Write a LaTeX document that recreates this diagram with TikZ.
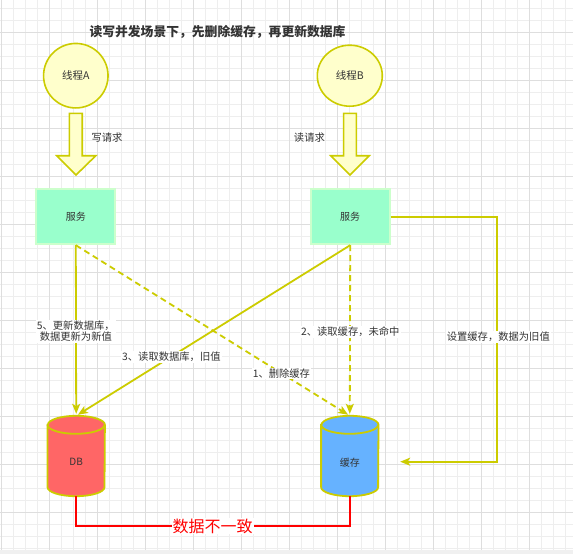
\documentclass[tikz,border=0pt]{standalone}
\usepackage{fontspec}
\newfontfamily\cjk{Noto Sans CJK SC}
\usetikzlibrary{shapes.geometric,arrows.meta,calc}
\definecolor{ylw}{HTML}{CCCC00}
\definecolor{ylwfill}{HTML}{FFFFCC}
\definecolor{boxfill}{HTML}{99FFCC}
\definecolor{boxline}{HTML}{CCFFCC}
\definecolor{dbfill}{HTML}{FF6666}
\definecolor{cachefill}{HTML}{66B2FF}
\definecolor{txt}{HTML}{333333}
\definecolor{gminor}{HTML}{EEEEEE}
\definecolor{gmajor}{HTML}{DEDEDE}
\definecolor{gbar}{HTML}{F0F0F0}
\tikzset{
  gridminor/.style={draw=gminor,line width=0.8pt},
  gridmajor/.style={draw=gmajor,line width=0.9pt},
  thread/.style={ellipse,draw=ylw,fill=ylwfill,line width=1.6pt,inner sep=0pt,font=\cjk\fontsize{10.5}{12}\selectfont,text=txt},
  svc/.style={rectangle,draw=boxline,fill=boxfill,line width=2pt,minimum width=79pt,minimum height=55pt,inner sep=0pt,font=\cjk\fontsize{10}{12}\selectfont,text=txt},
  cylslot/.style={rectangle,draw=none,minimum width=57pt,minimum height=80pt,inner sep=0pt},
  blockarrow/.style={draw=ylw,fill=ylwfill,line width=1.6pt,line join=miter},
  plain/.style={font=\cjk\fontsize{10.3}{11.5}\selectfont,text=txt,inner sep=1pt},
  elabel/.style={plain,fill=white,align=center},
  conn/.style={draw=ylw,line width=1.8pt,-{Stealth[length=10pt,width=8pt,inset=2.5pt]}},
  dconn/.style={conn,dash pattern=on 6pt off 4pt},
}
\begin{document}
\begin{tikzpicture}[x=1pt,y=-1pt]
\useasboundingbox (0,0) rectangle (573,554);
\fill[white] (0,0) rectangle (573,554);
% grid
\foreach \i in {0,...,47} {\draw[gridminor] ({1.3+12*\i},0) -- ({1.3+12*\i},550);}
\foreach \i in {0,...,45} {\draw[gridminor] (0,{8.7+12*\i}) -- (573,{8.7+12*\i});}
\foreach \i in {0,...,11} {\draw[gridmajor] ({1.3+48*\i},0) -- ({1.3+48*\i},550);}
\foreach \i in {0,...,10} {\draw[gridmajor] (0,{32.7+48*\i}) -- (573,{32.7+48*\i});}
\fill[gbar] (0,550) rectangle (573,554);

% title
\node[font=\cjk\bfseries\fontsize{12.8}{14}\selectfont,text=txt] (title) at (217.5,32) {读写并发场景下，先删除缓存，再更新数据库};

% threads
\node[thread,minimum width=64.5pt,minimum height=64.5pt] (ta) at (75.8,75.7) {线程A};
\node[thread,minimum width=65pt,minimum height=61pt] (tb) at (349.8,75.7) {线程B};

% block arrows
\draw[blockarrow] (69.4,113.3) -- (82.2,113.3) -- (82.2,155.7) -- (95.8,155.7) -- (76,175) -- (56.7,155.7) -- (69.4,155.7) -- cycle;
\draw[blockarrow] (343.6,113.3) -- (356.4,113.3) -- (356.4,155.7) -- (369.2,155.7) -- (350,175) -- (330.8,155.7) -- (343.6,155.7) -- cycle;
\node[plain] (wreq) at (107,138) {写请求};
\node[plain] (rreq) at (309.4,138) {读请求};

% services
\node[svc] (sa) at (75.8,216.7) {服务};
\node[svc] (sb) at (350.2,216.7) {服务};

% cylinders
\node[cylslot] (db) at (76.2,456) {};
\node[cylslot] (cache) at (349.8,456) {};
\foreach \c/\f in {db/dbfill,cache/cachefill} {
  \path[draw=ylw,fill=\f,line width=1.8pt]
    ($(\c.north west)+(0,9)$) -- ($(\c.south west)+(0,-9)$)
    arc[start angle=180,end angle=360,x radius=28.5pt,y radius=9pt]
    -- ($(\c.north east)+(0,9)$)
    arc[start angle=0,end angle=180,x radius=28.5pt,y radius=9pt] -- cycle;
  \draw[ylw,line width=1.8pt] ($(\c.north west)+(0,9)$)
    arc[start angle=180,end angle=360,x radius=28.5pt,y radius=9pt];
}
\node[font=\cjk\fontsize{10}{12}\selectfont,text=txt] (dbt) at (76.2,461.7) {DB};
\node[font=\cjk\fontsize{10}{12}\selectfont,text=txt] (cat) at (349.8,462.5) {缓存};

% connectors
\draw[conn,shorten >=2pt] (sa.south) -- (db.north);
\draw[dconn,shorten >=2pt] (sa.south) -- (cache.north);
\draw[conn,shorten >=2pt] (sb.south) -- (db.north);
\draw[dconn,shorten >=2pt] (sb.south) -- (cache.north);
\coordinate (rc) at (497.1,216.7);
\coordinate (setc) at (400.2,461.7);
\draw[conn] (sb.east) -- (rc) |- (setc);

% edge labels
\node[elabel] (l5) at (75.8,331.2) {5、更新数据库，\\数据更新为新值};
\node[elabel] (l1) at (281.4,373.5) {1、删除缓存};
\node[elabel] (l3) at (171.4,356.7) {3、读取数据库，旧值};
\node[elabel] (l2) at (350.3,331.7) {2、读取缓存，未命中};
\node[elabel] (ls) at (498.3,336.7) {设置缓存，数据为旧值};

% inconsistency
\draw[red,line width=2pt] (db.south) -- ++(0,30) -| (cache.south);
\node[fill=white,text=red,font=\cjk\fontsize{16}{18}\selectfont,inner sep=1pt] (bad) at (212.7,526) {数据不一致};
\end{tikzpicture}
\end{document}
